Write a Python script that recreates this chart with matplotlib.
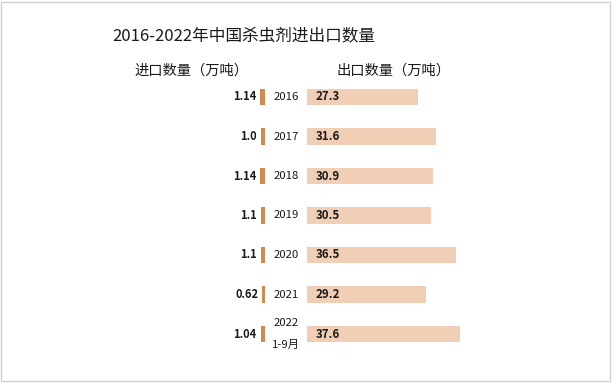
import matplotlib.pyplot as plt
from matplotlib.patches import Rectangle
import matplotlib.transforms as mtransforms

plt.rcParams['font.family'] = ['Noto Sans CJK SC', 'DejaVu Sans']

years = ['2016', '2017', '2018', '2019', '2020', '2021', '2022\n1-9月']
imports = [1.14, 1.0, 1.14, 1.1, 1.1, 0.62, 1.04]
exports = [27.3, 31.6, 30.9, 30.5, 36.5, 29.2, 37.6]
import_labels = ['1.14', '1.0', '1.14', '1.1', '1.1', '0.62', '1.04']

IMP_COLOR = '#D08B4E'
EXP_COLOR = '#F0CFB6'

W, H = 612, 383
fig = plt.figure(figsize=(W / 100, H / 100), dpi=100)

# pixel -> figure fraction helpers
def fx(px):
    return px / W

def fy(py):
    return 1 - py / H

px_per_unit = 4.07
top_px, bot_px = 77.25, 353.75
ax_h = (bot_px - top_px) / H

# import axes (bars grow leftwards, right edge at 265px)
imp_left, imp_right = 165, 265
ax_imp = fig.add_axes([fx(imp_left), fy(bot_px), (imp_right - imp_left) / W, ax_h])
ax_imp.barh(range(len(years)), imports, height=0.41, color=IMP_COLOR)
ax_imp.set_xlim((imp_right - imp_left) / px_per_unit, 0)

# export axes (bars grow rightwards from 307px)
exp_left, exp_right = 307, 570
ax_exp = fig.add_axes([fx(exp_left), fy(bot_px), (exp_right - exp_left) / W, ax_h])
ax_exp.barh(range(len(years)), exports, height=0.41, color=EXP_COLOR)
ax_exp.set_xlim(0, (exp_right - exp_left) / px_per_unit)

for ax in (ax_imp, ax_exp):
    ax.set_ylim(len(years) - 0.5, -0.5)
    ax.axis('off')
    ax.patch.set_alpha(0)

# value labels
for i, (v, lab) in enumerate(zip(imports, import_labels)):
    off = mtransforms.offset_copy(ax_imp.transData, fig=fig, x=-4, y=0, units='dots')
    ax_imp.text(v, i, lab, transform=off, ha='right', va='center',
                fontsize=8, fontweight='bold', color='#1a1a1a')

for i, v in enumerate(exports):
    off = mtransforms.offset_copy(ax_exp.transData, fig=fig, x=9, y=0, units='dots')
    ax_exp.text(0, i, f'{v:.1f}', transform=off, ha='left', va='center',
                fontsize=8.3, fontweight='bold', color='#1a1a1a')

# year labels in the gap between the two bar groups
year_tr = mtransforms.blended_transform_factory(fig.transFigure, ax_exp.transData)
for i, y in enumerate(years):
    ax_exp.text(fx(286), i, y, transform=year_tr, ha='center', va='center',
                fontsize=8.2, color='#1a1a1a', linespacing=2.5)

# title and headers
fig.text(fx(244), fy(37), '2016-2022年中国杀虫剂进出口数量', ha='center', va='center',
         fontsize=12, color='#1a1a1a')
fig.text(fx(191), fy(71), '进口数量（万吨）', ha='center', va='center',
         fontsize=10.3, color='#1a1a1a')
fig.text(fx(393), fy(71), '出口数量（万吨）', ha='center', va='center',
         fontsize=10.3, color='#1a1a1a')

# thin frame round the figure
fig.patches.append(Rectangle((fx(1), fy(381)), fx(609), (380 - 1) / H,
                             transform=fig.transFigure, fill=False,
                             edgecolor='#D0D0D0', linewidth=1))

fig.savefig('out.png', dpi=100)
